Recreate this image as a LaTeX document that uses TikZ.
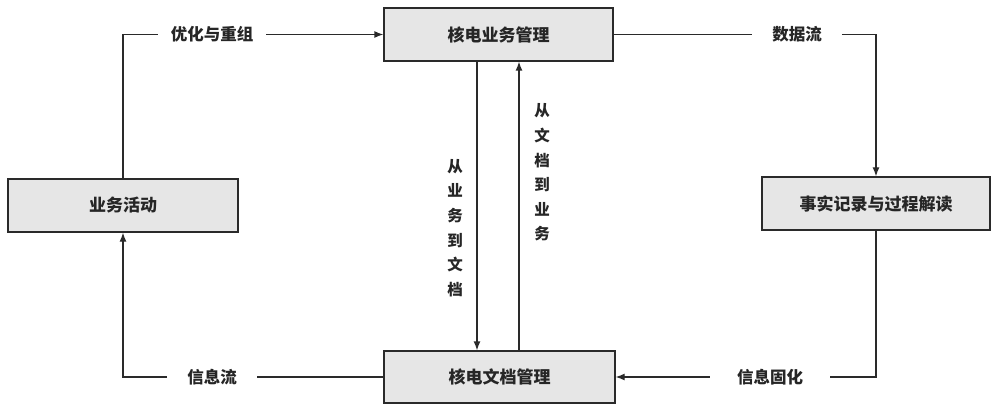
\documentclass[tikz,border=0pt]{standalone}
\usepackage{fontspec}
\setmainfont{Noto Sans CJK SC}
\usetikzlibrary{arrows.meta}
\definecolor{boxfill}{HTML}{E6E6E6}
\definecolor{edge}{HTML}{2A2A2A}
\tikzset{
  box/.style={draw=edge, fill=boxfill, line width=1.3pt, minimum height=53pt, inner sep=0pt,
              font=\fontsize{17}{20}\selectfont\bfseries, text=black!85},
  lbl/.style={inner ysep=0pt, font=\fontsize{16.5}{20}\selectfont\bfseries, text=black!85},
  vlbl/.style={align=center, inner sep=0pt, font=\fontsize{15.5}{24.6}\selectfont\bfseries, text=black!85},
  conn/.style={draw=edge, line width=1.3pt},
  arr/.style={conn, -{Latex[length=9pt,width=7pt]}}
}
\begin{document}
\begin{tikzpicture}[x=1pt,y=-1pt]
\useasboundingbox (0,0) rectangle (999,409);
\node[box, minimum width=229pt] (top) at (498.5,34.5) {核电业务管理};
\node[box, minimum width=230pt] (left) at (123,205.5) {业务活动};
\node[box, minimum width=228pt] (right) at (876,203.5) {事实记录与过程解读};
\node[box, minimum width=231pt, minimum height=52pt] (bot) at (499.5,377) {核电文档管理};
\node[lbl, inner xsep=13pt] (l1) at (212,34.5) {优化与重组};
\node[lbl, inner xsep=20pt] (l2) at (797,34.5) {数据流};
\node[lbl, inner xsep=27pt] (l3) at (770,377) {信息固化};
\node[lbl, inner xsep=20pt] (l4) at (212,377) {信息流};
\coordinate (dnx) at (477,0);
\coordinate (upx) at (519,0);
\draw[conn] (left.north) |- (l1.west);
\draw[arr] (l1.east) -- (top.west);
\draw[conn] (top.east) -- (l2.west);
\draw[arr] (l2.east) -| (right.north);
\draw[conn] (right.south) |- (l3.east);
\draw[arr] (l3.west) -- (bot.east);
\draw[conn] (bot.west) -- (l4.east);
\draw[arr] (l4.west) -| (left.south);
\draw[arr] (top.south -| dnx) -- (bot.north -| dnx);
\draw[arr] (bot.north -| upx) -- (top.south -| upx);
\node[vlbl] (v1) at (455,228) {从\\业\\务\\到\\文\\档};
\node[vlbl] (v2) at (542,172.5) {从\\文\\档\\到\\业\\务};
\end{tikzpicture}
\end{document}
